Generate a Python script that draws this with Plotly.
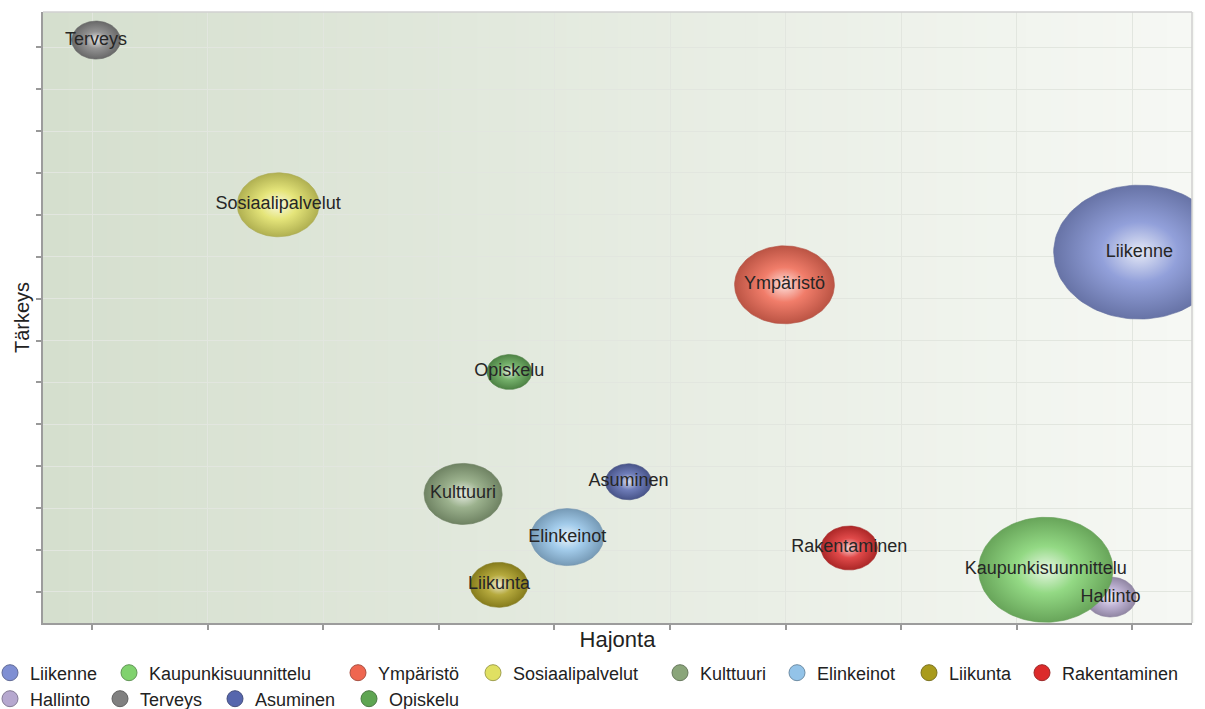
import numpy as np
import plotly.graph_objects as go

categories = ["Liikenne", "Kaupunkisuunnittelu", "Ympäristö", "Sosiaalipalvelut",
              "Kulttuuri", "Elinkeinot", "Liikunta", "Rakentaminen",
              "Hallinto", "Terveys", "Asuminen", "Opiskelu"]
hajonta = [10.06, 9.25, 6.99, 2.61, 4.21, 5.11, 4.52, 7.55, 9.81, 1.035, 5.64, 4.61]
tarkeys = [9.11, 1.53, 8.33, 10.24, 3.34, 2.31, 1.17, 2.05, 0.88, 14.17, 3.63, 6.25]
bubble_size = [134, 105, 78, 64, 61, 57, 45, 44, 40, 38, 36, 35]
colors = ["#7f8fd3", "#80d26e", "#ef6650", "#e0e062", "#8aa57a", "#93c3e8",
          "#a99b1c", "#dc2a2a", "#b6a8cf", "#808080", "#5666ad", "#5ea552"]
x_ticks = list(range(1, 11))
y_ticks = list(range(1, 15))

W, H = 1205, 709
PLOT_L, PLOT_R, PLOT_T, PLOT_B = 43, 1192, 12, 623   # plot area in page pixels
ML, MT, MR, MB = PLOT_L, PLOT_T, W - PLOT_R, H - PLOT_B
PW, PH = PLOT_R - PLOT_L, PLOT_B - PLOT_T
X_RANGE = [0.576, 10.515]
Y_RANGE = [0.26, 14.84]
px_x = PW / (X_RANGE[1] - X_RANGE[0])
px_y = PH / (Y_RANGE[1] - Y_RANGE[0])
STRETCH = 1.28

# legend layout (page pixel positions of each entry's text start and row centre)
legend_text_x = [29, 148, 377, 512, 699, 816, 948, 1061, 29, 139, 254, 388]
legend_row_y = [673] * 8 + [699] * 4


def mix(hexc, other, t):
    c = [int(hexc[i:i + 2], 16) for i in (1, 3, 5)]
    return "rgb(%d,%d,%d)" % tuple(round(a + (b - a) * t) for a, b in zip(c, other))


fig = go.Figure()

theta = np.linspace(0, 2 * np.pi, 121)
for i in reversed(range(len(categories))):
    rx = bubble_size[i] * STRETCH / 2 / px_x
    ry = bubble_size[i] / 2 / px_y
    fig.add_trace(go.Scatter(
        x=hajonta[i] + rx * np.cos(theta),
        y=tarkeys[i] + ry * np.sin(theta),
        mode="lines", fill="toself",
        line=dict(width=0.6, color=mix(colors[i], (40, 40, 40), 0.3)),
        fillgradient=dict(type="radial", colorscale=[
            [0.0, mix(colors[i], (255, 255, 255), 0.8)],
            [0.45, mix(colors[i], (255, 255, 255), 0.15)],
            [1.0, mix(colors[i], (30, 30, 30), 0.25)]]),
        showlegend=False, hoverinfo="skip"))

fig.add_trace(go.Scatter(
    x=hajonta, y=tarkeys, mode="text", text=categories,
    textposition="middle center",
    textfont=dict(family="Liberation Sans, Arial", size=18, color="#262626"),
    showlegend=False, hoverinfo="skip", cliponaxis=False))

legend_layouts = {}
for i, name in enumerate(categories):
    key = "legend" if i == 0 else "legend%d" % (i + 1)
    fig.add_trace(go.Scatter(
        x=[None], y=[None], mode="markers", name=name, legend=key,
        marker=dict(size=19, color=colors[i],
                    line=dict(width=1, color=mix(colors[i], (40, 40, 40), 0.35)))))
    legend_layouts[key] = dict(
        orientation="h", xanchor="left", yanchor="middle",
        x=(legend_text_x[i] - 39 - PLOT_L) / PW,
        y=(PLOT_B - legend_row_y[i]) / PH,
        font=dict(size=18, color="#222"), itemwidth=30,
        bgcolor="rgba(0,0,0,0)", borderwidth=0)

# background gradient
shapes = []
n = 90
c0, c1 = (213, 223, 206), (246, 248, 244)
for k in range(n):
    t = k / (n - 1)
    col = "rgb(%d,%d,%d)" % tuple(round(a + (b - a) * t) for a, b in zip(c0, c1))
    shapes.append(dict(type="rect", xref="paper", yref="paper",
                       x0=k / n, x1=(k + 1) / n + 0.002, y0=0, y1=1,
                       fillcolor=col, line=dict(width=0), layer="below"))
shapes.append(dict(type="line", xref="paper", yref="paper", x0=0, x1=1, y0=1, y1=1,
                   line=dict(color="#d0d0d0", width=1.5), layer="above"))
shapes.append(dict(type="line", xref="paper", yref="paper", x0=1, x1=1, y0=0, y1=1,
                   line=dict(color="#d0d0d0", width=1.5), layer="above"))

fig.update_layout(
    width=W, height=H,
    margin=dict(l=ML, r=MR, t=MT, b=MB, autoexpand=False),
    paper_bgcolor="white", plot_bgcolor="rgba(0,0,0,0)",
    shapes=shapes,
    font=dict(family="Liberation Sans, Arial", color="#222"),
    xaxis=dict(range=X_RANGE, tickvals=x_ticks, showticklabels=False, automargin=False,
               ticks="outside", ticklen=5, tickcolor="#999", tickwidth=1.5,
               showgrid=True, gridcolor="#e2e6df", gridwidth=1, zeroline=False,
               showline=True, linecolor="#9c9c9c", linewidth=2,
               title=dict(text="Hajonta", font=dict(size=22, color="#222"), standoff=3)),
    yaxis=dict(range=Y_RANGE, tickvals=y_ticks, showticklabels=False, automargin=False,
               ticks="outside", ticklen=5, tickcolor="#999", tickwidth=1.5,
               showgrid=True, gridcolor="#e2e6df", gridwidth=1, zeroline=False,
               showline=True, linecolor="#9c9c9c", linewidth=2,
               title=dict(text="Tärkeys", font=dict(size=20, color="#222"), standoff=1)),
    **legend_layouts,
)

fig.write_html("out.html", config={"displayModeBar": False},
               post_script="document.body.style.margin='0px';")
